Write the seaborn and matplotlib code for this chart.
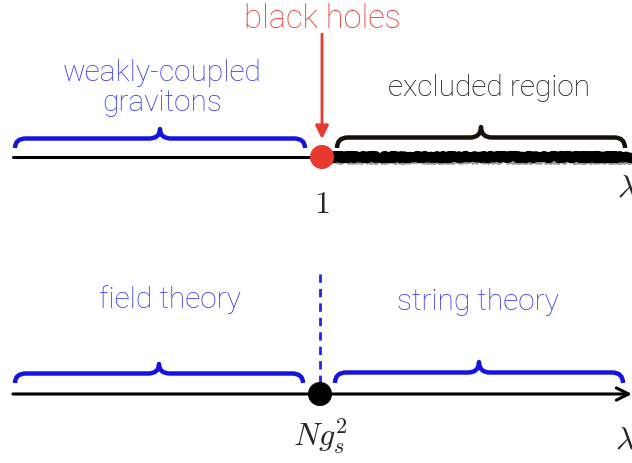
#!/usr/bin/env python3
"""Two number lines: black-hole bound vs field/string theory regimes."""
import matplotlib
matplotlib.use("Agg")
import matplotlib.pyplot as plt
import numpy as np
import pandas as pd
import seaborn as sns
from matplotlib.path import Path
from matplotlib.patches import PathPatch

# ---- diagram data (canvas units, y grows downward) ----
row_names = ["gravity", "gauge"]
row_y = [158, 395]
line_start = [13, 13]
line_end = [632, 632]
critical_x = [322, 320]
critical_label = [r"$1$", r"$Ng_s^2$"]
axis_var = [r"$\lambda$", r"$\lambda$"]

left_text = ["weakly-coupled\ngravitons", "field theory"]
left_text_xy = [(162, 88), (170, 300)]
right_text = ["excluded region", "string theory"]
right_text_xy = [(489, 88), (478, 302)]
left_brace = [(15, 305), (15, 303)]
right_brace = [(337, 625), (335, 623)]
brace_tip_y = [149, 384]

marker_label = "black holes"
marker_label_xy = (322, 19)
marker_arrow_y = (35, 140)
dashed_y = (275, 385)

BLUE = "#1414e0"
TEXT_BLUE = "#3434ee"
RED = "#e8392f"


def brace(ax, x0, x1, yb, h, color, lw=3.2, r=11):
    xm = (x0 + x1) / 2
    ym = yb - h / 2
    verts = [(x0, yb), (x0, ym), (x0 + r, ym), (xm - r, ym), (xm, ym), (xm, yb - h),
             (xm, ym), (xm + r, ym), (x1 - r, ym), (x1, ym), (x1, yb)]
    codes = [Path.MOVETO, Path.CURVE3, Path.CURVE3, Path.LINETO, Path.CURVE3, Path.CURVE3,
             Path.CURVE3, Path.CURVE3, Path.LINETO, Path.CURVE3, Path.CURVE3]
    ax.add_patch(PathPatch(Path(verts, codes), fill=False, edgecolor=color, lw=lw,
                           capstyle="butt", joinstyle="round"))


sns.set_theme(style="white")
plt.rcParams["font.family"] = ["Roboto", "DejaVu Sans"]
plt.rcParams["mathtext.fontset"] = "cm"

fig = plt.figure(figsize=(6.32, 4.64), dpi=100)
ax = fig.add_axes([0, 0, 1, 1])
ax.set_xlim(0, 632)
ax.set_ylim(464, 0)
ax.axis("off")

# top row: plain line up to the bound, rough "excluded" stretch after
y0 = row_y[0]
ax.plot([line_start[0], critical_x[0]], [y0, y0], color="black", lw=2.2, zorder=2)
rough = ax.plot([critical_x[0], line_end[0]], [y0, y0], color="black", lw=7, zorder=2)[0]
rough.set_sketch_params(scale=1.3, length=3, randomness=40)
under = ax.plot([critical_x[0] + 8, line_end[0]], [y0 + 6, y0 + 6], color="#9a9a9a",
                lw=1.6, zorder=1)[0]
under.set_sketch_params(scale=1.0, length=2, randomness=30)

# bottom row: arrowed axis
y1 = row_y[1]
ax.annotate("", xy=(line_end[1], y1), xytext=(line_start[1], y1),
            arrowprops=dict(arrowstyle="->", color="black", lw=2.2,
                            mutation_scale=22, shrinkA=0, shrinkB=0))

pts = pd.DataFrame({"x": critical_x, "y": row_y, "row": row_names})
sns.scatterplot(data=pts, x="x", y="y", hue="row", palette=[RED, "black"], s=300,
                edgecolor="none", legend=False, ax=ax, zorder=5)

# braces
for i in range(2):
    brace(ax, *left_brace[i], brace_tip_y[i], 19, BLUE)
    brace(ax, *right_brace[i], brace_tip_y[i], 21, BLUE if i else "#15110a")

# labels under the axes
ax.text(critical_x[0], 205, critical_label[0], ha="center", va="center", fontsize=23)
ax.text(critical_x[1], 436, critical_label[1], ha="center", va="center", fontsize=23)
ax.text(617, 188, axis_var[0], ha="left", va="center", fontsize=23)
ax.text(615, 440, axis_var[1], ha="left", va="center", fontsize=23)

# region text
ax.text(*left_text_xy[0], left_text[0], ha="center", va="center", color=TEXT_BLUE,
        fontsize=21.5, fontweight="light", linespacing=1.08)
ax.text(*right_text_xy[0], right_text[0], ha="center", va="center", color="#111111",
        fontsize=21.5, fontweight="light")
ax.text(*left_text_xy[1], left_text[1], ha="center", va="center", color=TEXT_BLUE,
        fontsize=21.5, fontweight="light")
ax.text(*right_text_xy[1], right_text[1], ha="center", va="center", color=TEXT_BLUE,
        fontsize=21.5, fontweight="light")

# black-hole marker
ax.text(*marker_label_xy, marker_label, ha="center", va="center", color=RED,
        fontsize=23.5, fontweight="light")
ax.annotate("", xy=(critical_x[0], marker_arrow_y[1]), xytext=(critical_x[0], marker_arrow_y[0]),
            arrowprops=dict(arrowstyle="-|>", color=RED, lw=2, mutation_scale=20,
                            shrinkA=0, shrinkB=0))

# dashed split on the bottom row
ax.plot([critical_x[1], critical_x[1]], list(dashed_y), color="#2222ee", lw=2,
        ls=(0, (3, 2.2)), zorder=3)

fig.savefig("out.png", dpi=100)
